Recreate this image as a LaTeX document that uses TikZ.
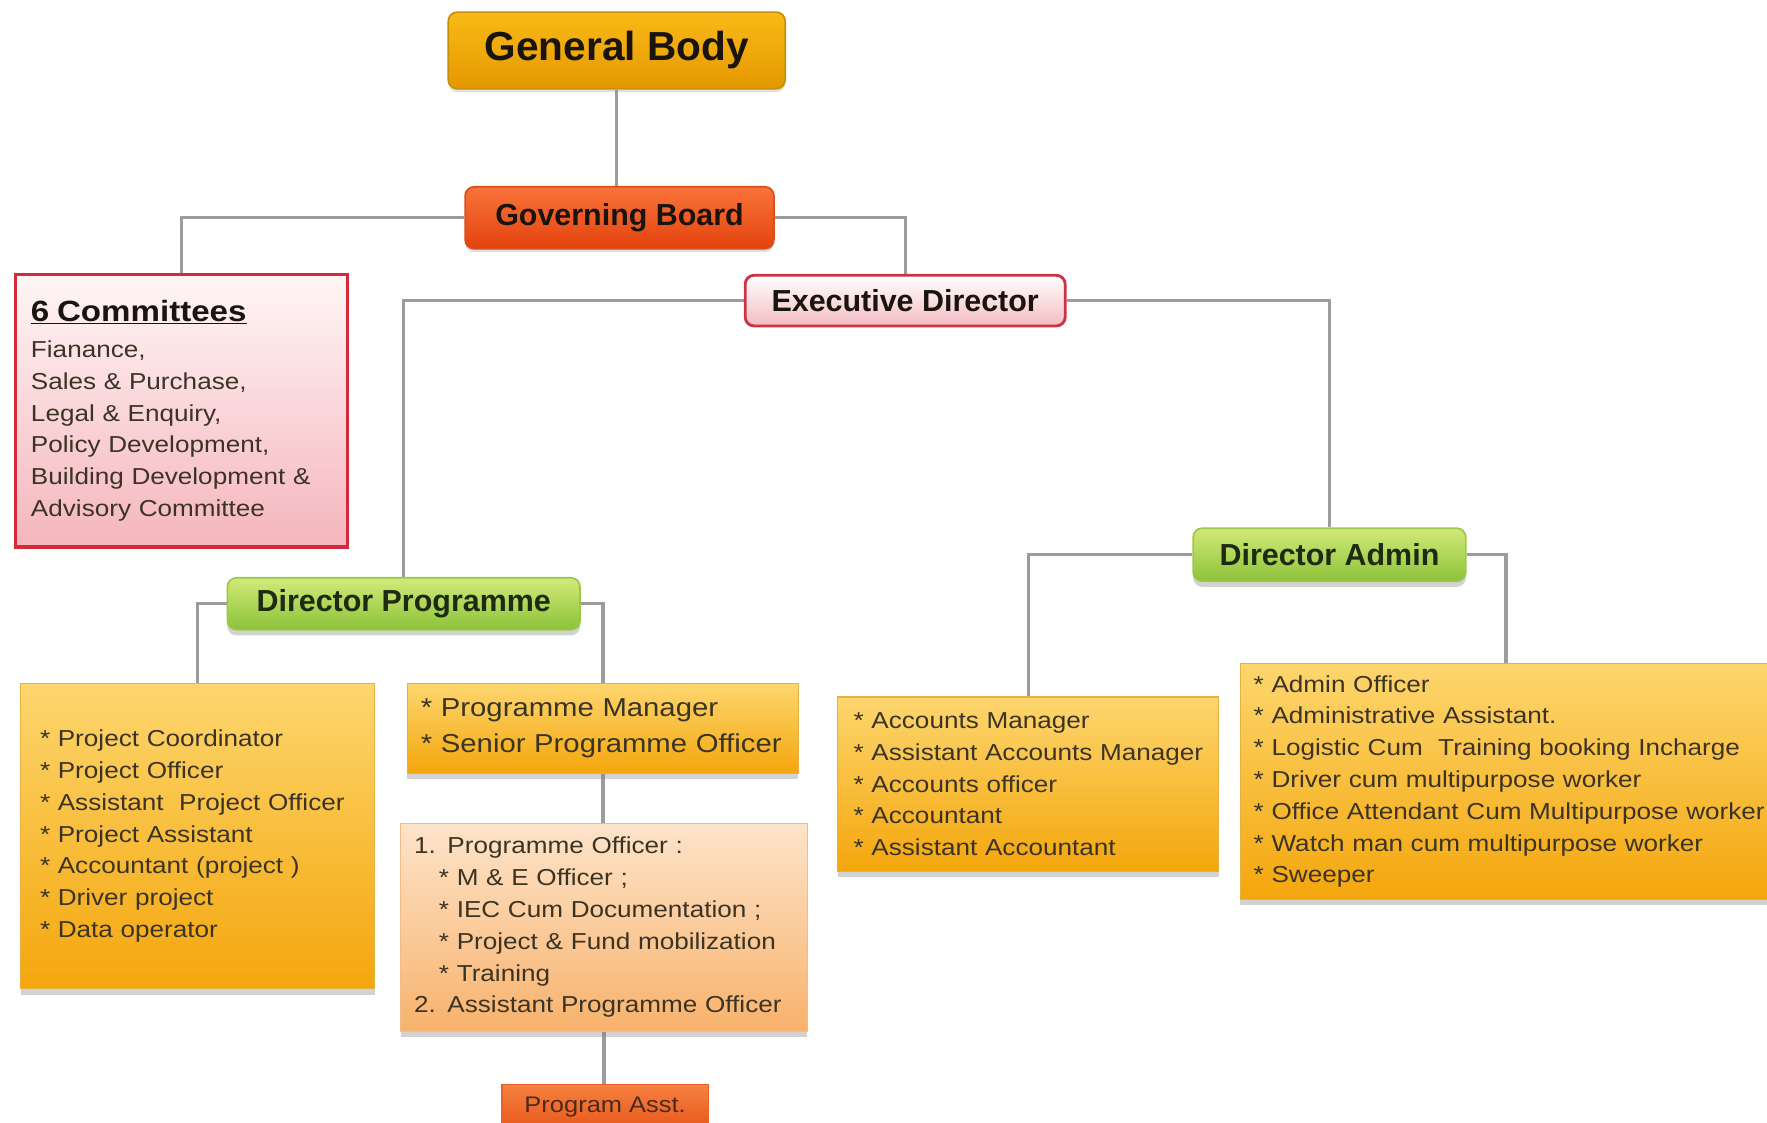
\documentclass[tikz,border=0pt]{standalone}
\usepackage{fontspec}
\setmainfont{Liberation Sans}
\newfontfamily\bodyfont{Liberation Sans}[FakeStretch=1.13]
\usetikzlibrary{shadows,backgrounds}
\newcommand\rw[1]{\mbox{#1}}
\definecolor{linegray}{HTML}{9C9C9C}
\definecolor{titletext}{HTML}{1A1410}
\definecolor{greentext}{HTML}{1E2A12}
\definecolor{bodytext}{HTML}{3B3425}
\definecolor{gbdraw}{HTML}{C8900A}
\definecolor{gbtop}{HTML}{F8BA16}
\definecolor{gbbot}{HTML}{E59800}
\definecolor{govdraw}{HTML}{D84E1C}
\definecolor{govtop}{HTML}{F8743A}
\definecolor{govbot}{HTML}{E5420E}
\definecolor{reddraw}{HTML}{CC3344}
\definecolor{comdraw}{HTML}{D42A3A}
\definecolor{pinktop}{HTML}{FFF6F6}
\definecolor{pinkbot}{HTML}{F5B5BD}
\definecolor{edbot}{HTML}{F3BCC1}
\definecolor{grdraw}{HTML}{9CC84A}
\definecolor{grtop}{HTML}{D2EA78}
\definecolor{grbot}{HTML}{8CC23A}
\definecolor{ordraw}{HTML}{E8B040}
\definecolor{ortop}{HTML}{FDD66E}
\definecolor{orbot}{HTML}{F4A60C}
\definecolor{pcdraw}{HTML}{F2BC88}
\definecolor{pctop}{HTML}{FDE4CA}
\definecolor{pcbot}{HTML}{F8B26C}
\definecolor{padraw}{HTML}{E8602A}
\definecolor{patop}{HTML}{F6803F}
\definecolor{pabot}{HTML}{E8581C}
\definecolor{patext}{HTML}{4A2A1A}
\begin{document}
\begin{tikzpicture}[x=1pt,y=-1pt,
  base/.style={anchor=north west, inner ysep=0pt, align=left},
  rbox/.style={base, rounded corners=8pt, line width=1.5pt, align=center, inner xsep=0pt,
     font=\bfseries\fontsize{27}{30}\selectfont, text=titletext},
  gbbox/.style={rbox, draw=gbdraw, top color=gbtop, bottom color=gbbot,
     font=\bfseries\fontsize{36}{40}\selectfont, drop shadow={shadow xshift=0pt, shadow yshift=-3pt, opacity=.25}},
  govbox/.style={rbox, draw=govdraw, top color=govtop, bottom color=govbot,
     drop shadow={shadow xshift=0pt, shadow yshift=-3pt, opacity=.25}},
  edbox/.style={rbox, draw=reddraw, line width=2.5pt, top color=white, bottom color=edbot},
  dirbox/.style={rbox, draw=grdraw, top color=grtop, bottom color=grbot, text=greentext,
     drop shadow={shadow xshift=0pt, shadow yshift=-5pt, opacity=.35}},
  combox/.style={base, draw=comdraw, line width=3pt, top color=pinktop, bottom color=pinkbot,
     font=\bodyfont\fontsize{20.5}{28.2}\selectfont, text=bodytext},
  listbox/.style={base, draw=ordraw, line width=1pt, top color=ortop, bottom color=orbot,
     font=\bodyfont\fontsize{20.5}{28.2}\selectfont, text=bodytext,
     drop shadow={shadow xshift=0pt, shadow yshift=-5pt, opacity=.35}},
  peachbox/.style={listbox, draw=pcdraw, top color=pctop, bottom color=pcbot},
  pabox/.style={base, align=center, inner xsep=0pt, draw=padraw, line width=1pt, top color=patop, bottom color=pabot,
     font=\bodyfont\fontsize{20}{24}\selectfont, text=patext},
  conn/.style={draw=linegray, line width=3pt}
]
\useasboundingbox (0,0) rectangle (1568,996.5);

% top
\node[gbbox, minimum width=299pt, minimum height=68pt] (gb) at (397,10) {General Body};
\node[govbox, minimum width=274pt, minimum height=55pt] (gov) at (412,165) {Governing Board};
\node[combox, minimum width=295pt, minimum height=242pt, text width=267pt, inner xsep=14pt] (com) at (12,242)
  {{\bfseries\fontsize{26}{28}\selectfont\color{titletext}\underline{6 Committees}}\\[3.8pt]\rw{Fianance,}\\\rw{Sales \& Purchase,}\\\rw{Legal \& Enquiry,}\\\rw{Policy Development,}\\\rw{Building Development \&}\\\rw{Advisory Committee}};
\node[edbox, minimum width=284pt, minimum height=45pt] (ed) at (660,243) {Executive Director};

% directors
\node[dirbox, minimum width=313pt, minimum height=46pt] (dp) at (201,512) {Director Programme};
\node[dirbox, minimum width=242pt, minimum height=47pt] (da) at (1058,468) {Director Admin};

% programme side
\node[listbox, minimum width=314pt, minimum height=271pt, text width=280pt, inner xsep=17pt] (proj) at (18,606)
  {\rw{* Project Coordinator}\\\rw{* Project Officer}\\\rw{* Assistant\ \ Project Officer}\\\rw{* Project Assistant}\\\rw{* Accountant (project )}\\\rw{* Driver project}\\\rw{* Data operator}};
\node[listbox, minimum width=347pt, minimum height=80pt, text width=323pt, inner xsep=12pt,
  font=\bodyfont\fontsize{23}{32}\selectfont] (pm) at (361,606)
  {\rw{* Programme Manager}\\\rw{* Senior Programme Officer}};
\node[peachbox, minimum width=361pt, minimum height=185pt, text width=337pt, inner xsep=12pt] (po) at (355,730)
  {\rw{1. Programme Officer :}\\\rw{\hspace*{22pt}* M \& E Officer ;}\\\rw{\hspace*{22pt}* IEC Cum Documentation ;}\\\rw{\hspace*{22pt}* Project \& Fund mobilization}\\\rw{\hspace*{22pt}* Training}\\\rw{2. Assistant Programme Officer}};
\node[pabox, minimum width=183pt, minimum height=40pt] (pa) at (445,962) {Program Asst.};

% admin side
\node[listbox, minimum width=338pt, minimum height=155pt, text width=310pt, inner xsep=14pt] (acc) at (743,618)
  {\rw{* Accounts Manager}\\\rw{* Assistant Accounts Manager}\\\rw{* Accounts officer}\\\rw{* Accountant}\\\rw{* Assistant Accountant}};
\node[listbox, minimum width=472pt, minimum height=210pt, text width=448pt, inner xsep=12pt] (adm) at (1100,588)
  {\rw{* Admin Officer}\\\rw{* Administrative Assistant.}\\\rw{* Logistic Cum\ \ Training booking Incharge}\\\rw{* Driver cum multipurpose worker}\\\rw{* Office Attendant Cum Multipurpose worker}\\\rw{* Watch man cum multipurpose worker}\\\rw{* Sweeper}};

% connectors
\begin{scope}[on background layer]
\fill[white] (0,0) rectangle (1568,996.5);
\draw[conn] (gb.south) -- (gb.south |- gov.north);
\draw[conn] (gov.west) -| (com.north);
\draw[conn] (gov.east) -| (ed.north);
\draw[conn] (ed.west) -| (dp.north);
\draw[conn] (ed.east) -| (da.north);
\draw[conn] (dp.west) -| (proj.north);
\draw[conn] (dp.east) -| (pm.north);
\draw[conn] (pm.south) -- (pm.south |- po.north);
\draw[conn] (po.south) -- (po.south |- pa.north);
\draw[conn] (da.west) -| (acc.north);
\draw[conn] (da.east) -| (adm.north);
\end{scope}
\end{tikzpicture}
\end{document}
